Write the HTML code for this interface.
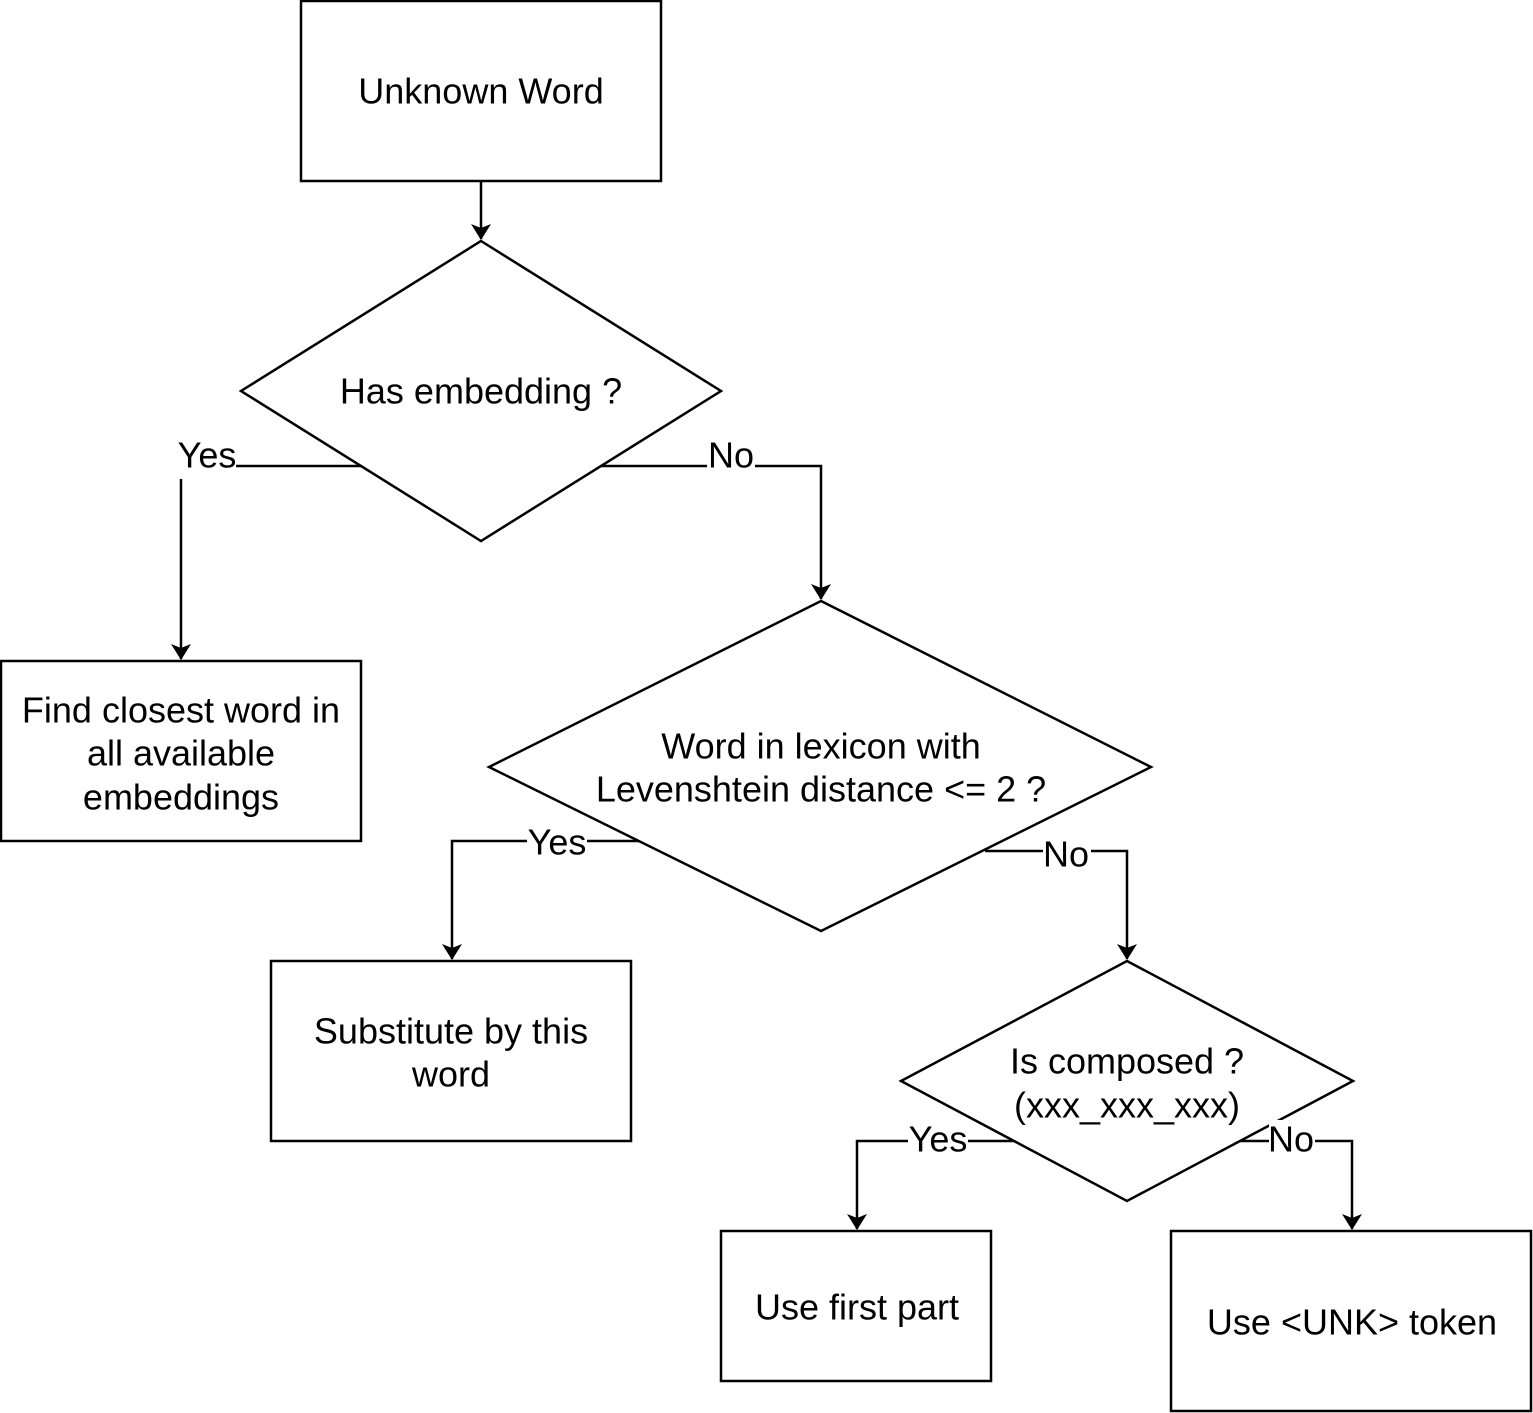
<!DOCTYPE html>
<html><head><style>
html,body{margin:0;padding:0;background:#fff;}
svg{display:block;}
text{font-family:"Liberation Sans",Arial,sans-serif;font-size:36px;fill:#000;text-anchor:middle;dominant-baseline:central;}
</style></head><body>
<svg width="1533" height="1413" viewBox="0 0 1533 1413" xmlns="http://www.w3.org/2000/svg">
<defs>
<marker id="a" markerWidth="16" markerHeight="20" refX="15" refY="10" orient="auto" markerUnits="userSpaceOnUse">
<path d="M0,0 L16,10 L0,20 L4,10 Z" fill="#000"/>
</marker>
</defs>
<g fill="#fff" stroke="#000" stroke-width="2.5">
<rect x="301" y="1" width="360" height="180"/>
<polygon points="481,241 721,391 481,541 241,391"/>
<rect x="1" y="661" width="360" height="180"/>
<polygon points="821,601 1151,767 821,931 489,767"/>
<rect x="271" y="961" width="360" height="180"/>
<polygon points="1127,961 1353,1081 1127,1201 901,1081"/>
<rect x="721" y="1231" width="270" height="150"/>
<rect x="1171" y="1231" width="360" height="180"/>
</g>
<g fill="none" stroke="#000" stroke-width="2.5">
<path d="M481,181 L481,239" marker-end="url(#a)"/>
<path d="M361,466 L181,466 L181,659" marker-end="url(#a)"/>
<path d="M601,466 L821,466 L821,599" marker-end="url(#a)"/>
<path d="M639,841 L452,841 L452,959" marker-end="url(#a)"/>
<path d="M985,851 L1127,851 L1127,959" marker-end="url(#a)"/>
<path d="M1014,1141 L857,1141 L857,1229" marker-end="url(#a)"/>
<path d="M1240,1141 L1352,1141 L1352,1229" marker-end="url(#a)"/>
</g>
<g fill="#fff">
<rect x="176" y="435" width="60" height="44"/>
<rect x="707" y="435" width="48" height="40"/>
<rect x="527" y="822" width="60" height="40"/>
<rect x="1043" y="834" width="48" height="40"/>
<rect x="908" y="1120" width="60" height="40"/>
<rect x="1269" y="1120" width="46" height="40"/>
</g>
<text x="481" y="91">Unknown Word</text>
<text x="481" y="391">Has embedding ?</text>
<text x="207" y="455">Yes</text>
<text x="731" y="455">No</text>
<text x="181" y="710">Find closest word in</text>
<text x="181" y="753">all available</text>
<text x="181" y="797">embeddings</text>
<text x="821" y="746">Word in lexicon with</text>
<text x="821" y="789">Levenshtein distance &lt;= 2 ?</text>
<text x="557" y="842">Yes</text>
<text x="1066" y="854">No</text>
<text x="451" y="1031">Substitute by this</text>
<text x="451" y="1074">word</text>
<text x="1127" y="1061">Is composed ?</text>
<text x="1127" y="1105">(xxx_xxx_xxx)</text>
<text x="938" y="1139">Yes</text>
<text x="1291" y="1139">No</text>
<text x="857" y="1307">Use first part</text>
<text x="1352" y="1322">Use &lt;UNK&gt; token</text>
</svg>
</body></html>
